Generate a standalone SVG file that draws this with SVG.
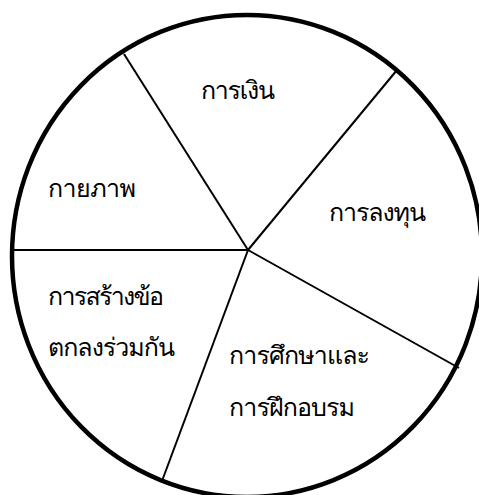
<svg xmlns="http://www.w3.org/2000/svg" width="479" height="495" viewBox="0 0 479 495">
<style>
.rim{fill:none;stroke:#000;stroke-width:4.5}
.spoke{stroke:#000;stroke-width:2;fill:none}
.lbl{font-family:"Loma","Tahoma","Noto Sans Thai Looped","Noto Serif Thai","Noto Sans Thai","Noto Sans",sans-serif;font-size:25px;fill:#000}
</style>
<rect width="479" height="495" fill="#fff"/>
<g id="circle"><ellipse class="rim" cx="247" cy="256" rx="235" ry="241"/></g>
<g id="connectors">
<line class="spoke" x1="248" y1="250" x2="124" y2="54"/>
<line class="spoke" x1="248" y1="250" x2="397" y2="70"/>
<line class="spoke" x1="248" y1="250" x2="12" y2="250"/>
<line class="spoke" x1="248" y1="250" x2="459" y2="368"/>
<line class="spoke" x1="248" y1="250" x2="162" y2="481"/>
</g>
<g id="finance"><text class="lbl" x="201" y="99" textLength="74">การเงิน</text></g>
<g id="physical"><text class="lbl" x="48" y="197" textLength="88">กายภาพ</text></g>
<g id="investment"><text class="lbl" x="329" y="221" textLength="97">การลงทุน</text></g>
<g id="agreement"><text class="lbl" x="48" y="305" textLength="116">การสร้างข้อ</text><text class="lbl" x="48" y="356" textLength="127">ตกลงร่วมกัน</text></g>
<g id="education"><text class="lbl" x="229" y="364" textLength="141">การศึกษาและ</text><text class="lbl" x="229" y="416" textLength="126">การฝึกอบรม</text></g>
</svg>
